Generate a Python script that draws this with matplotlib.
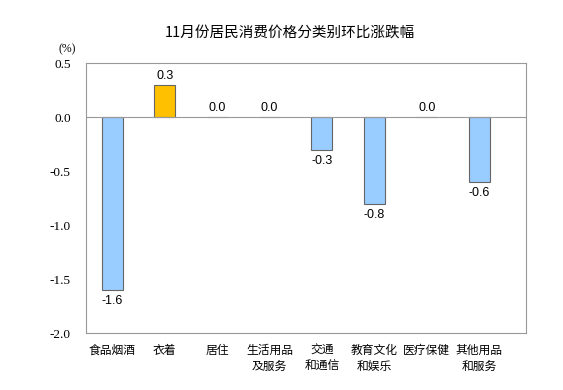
import matplotlib
matplotlib.use("Agg")
import matplotlib.pyplot as plt

plt.rcParams["font.family"] = ["Noto Sans CJK SC", "DejaVu Sans"]

categories = ["食品烟酒", "衣着", "居住", "生活用品\n及服务", "交通\n和通信",
              "教育文化\n和娱乐", "医疗保健", "其他用品\n和服务"]
values = [-1.6, 0.3, 0.0, 0.0, -0.3, -0.8, 0.0, -0.6]
y_ticks = [0.5, 0.0, -0.5, -1.0, -1.5, -2.0]

fig = plt.figure(figsize=(5.63, 3.90), dpi=100)
ax = fig.add_axes([0.1528, 0.146, 0.782, 0.692])

x = list(range(len(categories)))
colors = ["#FFC000" if v > 0 else "#99CCFF" for v in values]
ax.bar(x, values, width=0.4, color=colors, edgecolor="#666666", linewidth=0.8, zorder=2)
ax.axhline(0, color="#999999", linewidth=0.8, zorder=3)

for xi, v in zip(x, values):
    if v < 0:
        ax.text(xi, v - 0.05, f"{v:.1f}", ha="center", va="top",
                fontsize=9, family="Liberation Sans")
    else:
        ax.text(xi, v + 0.03, f"{v:.1f}", ha="center", va="bottom",
                fontsize=9, family="Liberation Sans")

ax.set_xlim(-0.5, len(categories) - 0.1)
ax.set_ylim(-2.0, 0.5)
ax.set_yticks(y_ticks)
ax.set_yticklabels([f"{t:.1f}" for t in y_ticks], family="Liberation Serif", fontsize=9.5)
ax.set_xticks(x)
ax.set_xticklabels(categories, fontsize=8.5, linespacing=1.3, va="top")
ax.tick_params(axis="both", length=0)
ax.tick_params(axis="y", pad=11)
ax.tick_params(axis="x", pad=8)
for s in ax.spines.values():
    s.set_color("#999999")
    s.set_linewidth(0.8)

fig.text(0.119, 0.873, "(%)", family="Liberation Serif", fontsize=8.5, ha="center", va="center")
fig.text(0.515, 0.915, "11月份居民消费价格分类别环比涨跌幅", fontsize=10.5, ha="center", va="center")

fig.savefig("out.png", dpi=100)
